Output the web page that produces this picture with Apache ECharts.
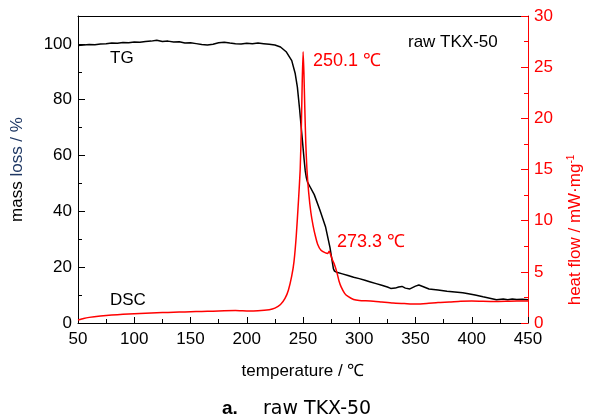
<!DOCTYPE html>
<html>
<head>
<meta charset="utf-8">
<script src="https://cdn.jsdelivr.net/npm/echarts@6/dist/echarts.min.js"></script>
<style>html,body{margin:0;padding:0;background:#fff;}#c{width:591px;height:420px;}</style>
</head>
<body>
<div id="c"></div>
<script>
// TG curve (mass loss, %)
const tgT = [50,55,60,65,70,75,80,85,90,95,100,105,110,115,120,125,130,135,140,145,150,155,160,165,170,175,180,185,190,195,200,205,210,215,220,225,230,235,240,243,245,247,249,250,251,252,253,254,256,260,265,270,274,276,277,278,280,285,290,295,300,305,310,315,320,325,328,332,335,338,341,345,350,353,357,362,370,378,385,392,397,403,410,416,422,428,432,436,440,445,450];
const tgV = [99.4,99.6,99.8,99.7,100.0,100.1,100.3,100.2,100.5,100.4,100.7,100.6,100.9,101.0,101.3,100.9,101.0,100.7,100.8,100.3,100.4,100.1,99.8,99.6,99.9,100.4,100.6,100.3,100.1,100.0,100.2,100.1,100.3,100.1,99.9,99.6,98.9,97.2,94.0,89.5,84.5,76.5,67.5,63,58.5,54.5,52,50.5,49,46,40.5,34.5,27,22,19.5,18.6,18.2,17.6,17.0,16.4,15.9,15.3,14.7,14.1,13.5,12.9,12.4,12.5,12.9,13.1,12.5,12.2,13.2,13.6,13.0,12.2,11.8,11.4,11.1,10.8,10.5,10.0,9.4,8.9,8.3,8.6,8.3,8.6,8.4,8.5,8.3];
// DSC curve (heat flow, mW/mg)
const dscT = [50,55,60,70,80,90,100,110,120,130,140,150,160,170,180,190,195,200,210,220,225,230,234,237,240,242,244,246,247.5,248.5,249.3,250.1,250.8,251.6,252.5,253.5,255,257,259,261,263,266,270,272,273.3,274.5,276,278,280,282,284,287,290,295,300,310,320,330,340,350,360,370,380,390,400,410,420,430,440,450];
const dscV = [0.3,0.45,0.55,0.68,0.78,0.85,0.9,0.95,1.0,1.03,1.07,1.1,1.13,1.16,1.2,1.22,1.2,1.18,1.2,1.3,1.45,1.8,2.4,3.2,4.6,6.0,8.5,12,15,19,23.5,26.5,24.5,21,17.5,15,12.8,10.8,9.5,8.5,7.7,7.1,6.85,6.8,7.0,6.7,6.2,5.7,5.0,4.1,3.5,2.9,2.6,2.3,2.2,2.15,2.05,1.95,1.9,1.85,1.9,2.0,2.05,2.12,2.15,2.12,2.1,2.12,2.15,2.15];
// axis ticks
const xTicks = {min: 50, max: 450, interval: 50};
const yLeftTicks = {min: 0, max: 110, interval: 20};
const yRightTicks = {min: 0, max: 30, interval: 5};
// texts
const peak1Label = '250.1 ℃';
const peak2Label = '273.3 ℃';
const sampleLabel = 'raw TKX-50';

const FONT = "'Liberation Sans', Arial, sans-serif";
const RED = '#ff0000';

const chart = echarts.init(document.getElementById('c'), null, {renderer: 'canvas'});
const tgData = tgT.map((t, i) => [t, tgV[i]]);
const dscData = dscT.map((t, i) => [t, dscV[i]]);

chart.setOption({
  animation: false,
  backgroundColor: '#fff',
  grid: {left: 78, right: 63, top: 16, bottom: 97, containLabel: false},
  xAxis: [{
    type: 'value', min: xTicks.min, max: xTicks.max, interval: xTicks.interval,
    name: 'temperature / ℃', nameLocation: 'middle', nameGap: 40,
    nameTextStyle: {fontFamily: FONT, fontSize: 17, color: '#000'},
    axisLine: {show: true, onZero: false, lineStyle: {color: '#000', width: 1}},
    axisTick: {inside: true, length: 6, lineStyle: {color: '#000'}},
    minorTick: {show: true, splitNumber: 2, length: 4, lineStyle: {color: '#000'}},
    splitLine: {show: false},
    axisLabel: {fontFamily: FONT, fontSize: 17, color: '#000', margin: 8}
  }, {
    type: 'value', position: 'top', min: xTicks.min, max: xTicks.max,
    axisLine: {show: true, onZero: false, lineStyle: {color: '#000', width: 1}},
    axisTick: {show: false}, axisLabel: {show: false}, splitLine: {show: false}
  }],
  yAxis: [{
    type: 'value', position: 'left', min: yLeftTicks.min, max: yLeftTicks.max, interval: yLeftTicks.interval,
    name: '{a|mass }{b|loss / %}', nameLocation: 'middle', nameGap: 52,
    nameTextStyle: {fontFamily: FONT, fontSize: 17, rich: {a: {color: '#000', fontFamily: FONT, fontSize: 17}, b: {color: '#1f3864', fontFamily: FONT, fontSize: 17}}},
    axisLine: {show: true, onZero: false, lineStyle: {color: '#000', width: 1}},
    axisTick: {inside: true, length: 7, lineStyle: {color: '#000'}},
    minorTick: {show: true, splitNumber: 2, length: 4, lineStyle: {color: '#000'}},
    splitLine: {show: false},
    axisLabel: {fontFamily: FONT, fontSize: 17, color: '#000', margin: 6, showMaxLabel: false}
  }, {
    type: 'value', position: 'right', min: yRightTicks.min, max: yRightTicks.max, interval: yRightTicks.interval,
    axisLine: {show: true, onZero: false, lineStyle: {color: RED, width: 1}},
    axisTick: {inside: true, length: 7, lineStyle: {color: RED}},
    minorTick: {show: true, splitNumber: 2, length: 4, lineStyle: {color: RED}},
    splitLine: {show: false},
    axisLabel: {fontFamily: FONT, fontSize: 17, color: RED, margin: 6}
  }],
  series: [{
    name: 'TG', type: 'line', xAxisIndex: 0, yAxisIndex: 0, data: tgData,
    showSymbol: false, symbol: 'none', lineStyle: {color: '#000', width: 1.5}, z: 3
  }, {
    name: 'DSC', type: 'line', xAxisIndex: 0, yAxisIndex: 1, data: dscData,
    showSymbol: false, symbol: 'none', smooth: 0.2, lineStyle: {color: RED, width: 1.5}, z: 4
  }],
  graphic: [
    {type: 'text', x: 110, y: 58, style: {text: 'TG', font: '17px ' + FONT, fill: '#000', textVerticalAlign: 'middle'}},
    {type: 'text', x: 110, y: 300, style: {text: 'DSC', font: '17px ' + FONT, fill: '#000', textVerticalAlign: 'middle'}},
    {type: 'text', x: 408, y: 42, style: {text: sampleLabel, font: '17px ' + FONT, fill: '#000', textVerticalAlign: 'middle'}},
    {type: 'text', x: 313, y: 61, style: {text: peak1Label, font: '18px ' + FONT, fill: RED, textVerticalAlign: 'middle'}},
    {type: 'text', x: 337, y: 242, style: {text: peak2Label, font: '18px ' + FONT, fill: RED, textVerticalAlign: 'middle'}},
    {type: 'text', x: 575, y: 230, rotation: Math.PI / 2,
      style: {text: '{m|heat flow / mW·mg}{s|-1}', textAlign: 'center', textVerticalAlign: 'middle',
        rich: {m: {fontFamily: FONT, fontSize: 17, fill: RED, color: RED}, s: {fontFamily: FONT, fontSize: 10, fill: RED, color: RED, verticalAlign: 'top'}}}},
    {type: 'text', x: 222, y: 409, style: {text: 'a.', font: 'bold 19px ' + FONT, fill: '#000', textVerticalAlign: 'middle'}},
    {type: 'text', x: 263, y: 409, style: {text: 'raw TKX-50', font: '19px "DejaVu Sans", sans-serif', fill: '#000', textVerticalAlign: 'middle'}}
  ]
});
</script>
</body>
</html>
